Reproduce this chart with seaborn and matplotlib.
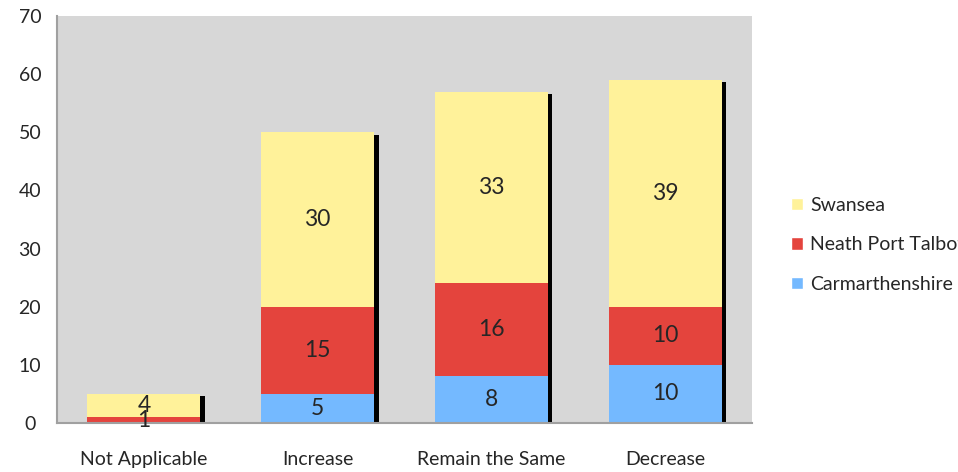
import numpy as np
import seaborn as sns
import matplotlib.pyplot as plt
import matplotlib.patheffects as pe
from matplotlib.patches import Patch

# data
categories = ['Not Applicable', 'Increase', 'Remain the Same', 'Decrease']
carmarthenshire = [0, 5, 8, 10]
neath_port_talbot = [1, 15, 16, 10]
swansea = [4, 30, 33, 39]

colors = {'Swansea': '#FFF29A', 'Neath Port Talbot': '#E4443D', 'Carmarthenshire': '#74B9FF'}

sns.set_style('white')
plt.rcParams['font.family'] = ['Lato', 'DejaVu Sans']

fig = plt.figure(figsize=(9.58, 4.72), dpi=100)
ax = fig.add_axes([0.0595, 0.104, 0.7255, 0.862])
ax.set_facecolor('#D7D7D7')

carm = np.array(carmarthenshire)
neath = np.array(neath_port_talbot)
swan = np.array(swansea)

# top segment first so lower segments cover the shadow overlap
sns.barplot(x=categories, y=swan, bottom=carm + neath, color=colors['Swansea'],
            width=0.65, saturation=1, ax=ax)
sns.barplot(x=categories, y=neath, bottom=carm, color=colors['Neath Port Talbot'],
            width=0.65, saturation=1, ax=ax)
sns.barplot(x=categories, y=carm, color=colors['Carmarthenshire'],
            width=0.65, saturation=1, ax=ax)

for p in ax.patches:
    p.set_linewidth(0)
    p.set_path_effects([pe.SimplePatchShadow(offset=(3.2, -1.8), shadow_rgbFace='black', alpha=1),
                        pe.Normal()])

for cont, vals in zip(ax.containers, [swansea, neath_port_talbot, carmarthenshire]):
    ax.bar_label(cont, labels=[str(v) if v else '' for v in vals],
                 label_type='center', fontsize=16.5)

ax.set_xlim(-0.5, 3.5)
ax.set_ylim(0, 70)
ax.set_yticks(range(0, 71, 10))
ax.tick_params(axis='x', length=0, pad=20, labelsize=14)
ax.tick_params(axis='y', length=0, pad=19.5, labelsize=14)
for lbl in ax.get_yticklabels():
    lbl.set_horizontalalignment('center')

for s in ['top', 'right']:
    ax.spines[s].set_visible(False)
for s in ['left', 'bottom']:
    ax.spines[s].set_color('#A0A0A0')
    ax.spines[s].set_linewidth(1.5)

handles = [Patch(facecolor=colors[k], label=k) for k in colors]
fig.legend(handles=handles, loc='center left', bbox_to_anchor=(0.818, 0.481),
           frameon=False, fontsize=14, handlelength=0.6, handleheight=0.6,
           handletextpad=0.35, labelspacing=1.15, borderaxespad=0)

plt.savefig('out.png', dpi=100)
